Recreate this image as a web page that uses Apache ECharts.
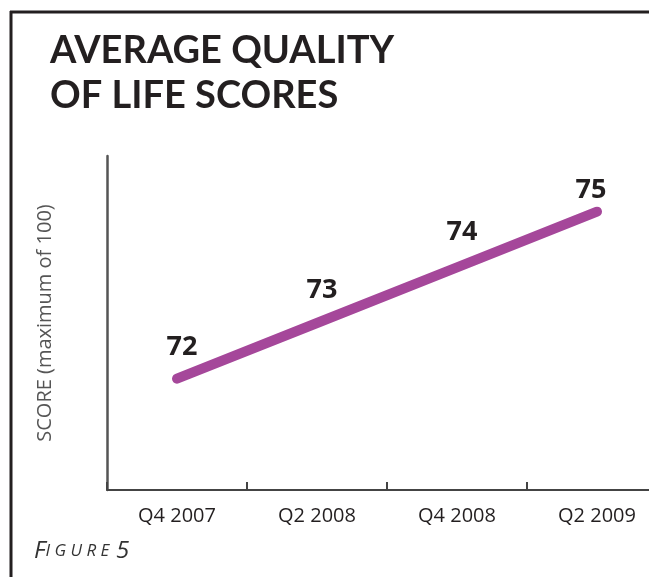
<!DOCTYPE html>
<html>
<head>
<meta charset="utf-8">
<script src="https://cdn.jsdelivr.net/npm/echarts@6/dist/echarts.min.js"></script>
<style>
  html, body { margin: 0; padding: 0; background: #fff; }
  #main { width: 649px; height: 577px; }
</style>
</head>
<body>
<div id="main"></div>
<script>
// quarters on the x axis
var quarters = ['Q4 2007', 'Q2 2008', 'Q4 2008', 'Q2 2009'];
// average quality of life score per quarter
var scores = [72, 73, 74, 75];

var purple = '#a5479a';
var ink = '#231f20';

var chart = echarts.init(document.getElementById('main'));

// the last label sits closer to the line than the others
var labelShift = function (i) {
  return i === quarters.length - 1 ? [-6, -21] : [5, -31 - i * 2];
};

chart.setOption({
  animation: false,
  title: {
    text: 'AVERAGE QUALITY\nOF LIFE SCORES',
    left: 45,
    top: 23,
    textStyle: {
      fontFamily: 'Lato',
      fontWeight: 700,
      fontSize: 38,
      lineHeight: 45,
      color: ink
    }
  },
  grid: {
    left: 107,
    right: -18,
    top: 156,
    bottom: 87,
    outerBoundsMode: 'none'
  },
  xAxis: {
    type: 'category',
    data: quarters,
    boundaryGap: true,
    axisLine: { lineStyle: { color: '#444', width: 2 } },
    axisTick: { show: true, inside: true, length: 8, lineStyle: { color: '#444', width: 2 } },
    axisLabel: {
      margin: 16,
      fontFamily: 'Open Sans',
      fontSize: 20,
      color: ink
    }
  },
  yAxis: {
    type: 'value',
    min: 70,
    max: 76,
    name: 'SCORE (maximum of 100)',
    nameLocation: 'middle',
    nameGap: 52,
    nameTextStyle: {
      fontFamily: 'Open Sans',
      fontSize: 20,
      color: '#555'
    },
    axisLine: { show: true, lineStyle: { color: '#555', width: 2.5 } },
    axisTick: { show: false },
    axisLabel: { show: false },
    splitLine: { show: false }
  },
  series: [{
    type: 'line',
    data: scores.map(function (v, i) {
      return {
        value: v,
        label: { offset: labelShift(i) }
      };
    }),
    symbol: 'circle',
    symbolSize: 1,
    itemStyle: { color: purple },
    lineStyle: { color: purple, width: 10, cap: 'round' },
    label: {
      show: true,
      position: 'inside',
      fontFamily: 'Liberation Sans Narrow, Open Sans',
      fontWeight: 'bold',
      fontSize: 27,
      color: ink
    }
  }],
  graphic: [
    {
      type: 'line',
      shape: { x1: 10, y1: 12, x2: 649, y2: 12 },
      style: { stroke: ink, lineWidth: 3 }
    },
    {
      type: 'line',
      shape: { x1: 11, y1: 11, x2: 11, y2: 577 },
      style: { stroke: ink, lineWidth: 3 }
    },
    {
      type: 'text',
      left: 34,
      top: 539,
      style: {
        text: '{big|F}{small|I G U R E}  {big|5}',
        fill: '#333',
        rich: {
          big: { fontFamily: 'Open Sans', fontStyle: 'italic', fontSize: 24, fill: '#333' },
          small: { fontFamily: 'Open Sans', fontStyle: 'italic', fontSize: 17, fill: '#333' }
        }
      }
    }
  ]
});
</script>
</body>
</html>
